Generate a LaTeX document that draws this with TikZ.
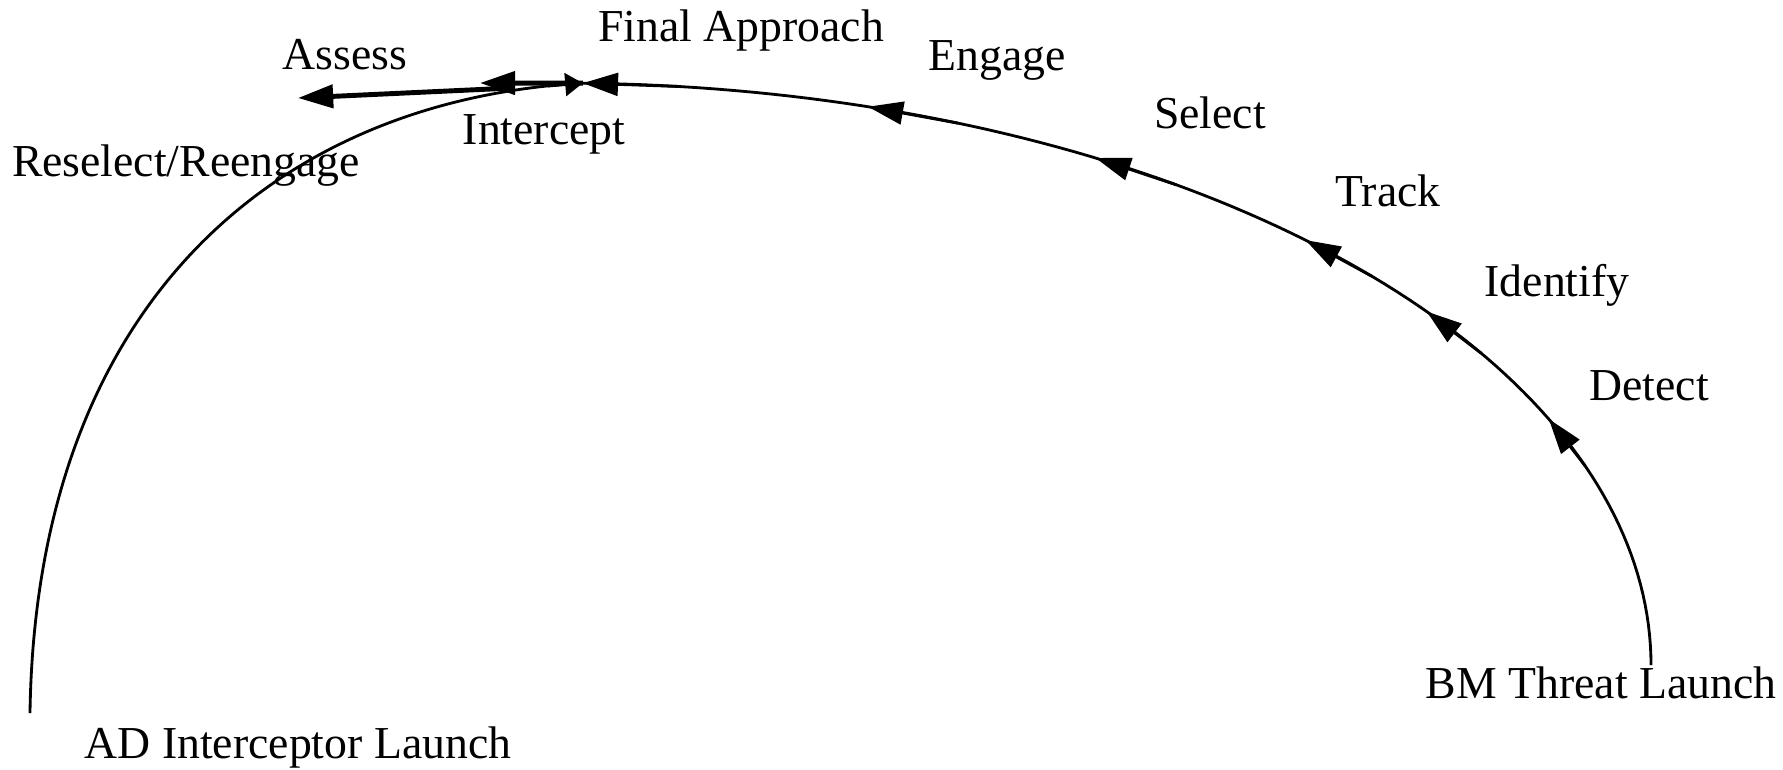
\documentclass[tikz,border=0pt]{standalone}
\usepackage{fontspec}
\setmainfont{Liberation Serif}
\usetikzlibrary{arrows.meta}

\begin{document}
\begin{tikzpicture}[x=0.01cm, y=-0.01cm,
  phase/.style={font=\fontsize{13}{15}\selectfont, anchor=base, inner sep=0pt},
  path/.style={line width=0.8pt},
  tip/.style={line width=0.8pt, -{Triangle[length=10pt,width=6.5pt]}},
  stub/.style={line width=0.8pt, -{Triangle[length=5pt,width=6.5pt]}},
  heavy/.style={line width=1.4pt, -{Triangle[length=10pt,width=6.5pt]}}]
  \useasboundingbox (0,0) rectangle (1783,769);

  % Define launch points and intercept
  \coordinate (BM) at (1651,665);
  \coordinate (AD) at (30,713);
  \coordinate (I) at (582.8,83.1);
  \coordinate (R) at (480,83);
  \coordinate (Rb) at (512,88);
  \coordinate (A) at (298,98);

  % Threat trajectory
  \draw[path] plot[domain=0:88.8, samples=90] ({560+1091*cos(\x)}, {665-582*sin(\x)});

  % Interceptor trajectory
  \draw[path] (AD) .. controls (36,300) and (280,100) .. (I);

  % Arrows along the threat trajectory
  \foreach \t in {25, 37.4, 46.9, 60.6, 73.6, 88.8}
    \draw[tip] ({560+1091*cos(\t-5)}, {665-582*sin(\t-5)}) -- ({560+1091*cos(\t)}, {665-582*sin(\t)});

  % Interceptor arrow and assessment
  \draw[stub] (548,86) -- (I);
  \draw[heavy] (I) -- (R);
  \draw[heavy] (Rb) -- (A);

  % Label phases
  \node[phase] (assess) at (345,69) {Assess};
  \node[phase] (final) at (741,41) {Final Approach};
  \node[phase] (engage) at (997,70) {Engage};
  \node[phase] (select) at (1210,128) {Select};
  \node[phase] (track) at (1388,206) {Track};
  \node[phase] (identify) at (1557,296) {Identify};
  \node[phase] (detect) at (1649,400) {Detect};
  \node[phase] (bmlaunch) at (1601,698) {BM Threat Launch};
  \node[phase] (adlaunch) at (298,758) {AD Interceptor Launch};
  \node[phase] (reselect) at (186,176) {Reselect/Reengage};
  \node[phase] (intercept) at (544,144) {Intercept};
\end{tikzpicture}
\end{document}
